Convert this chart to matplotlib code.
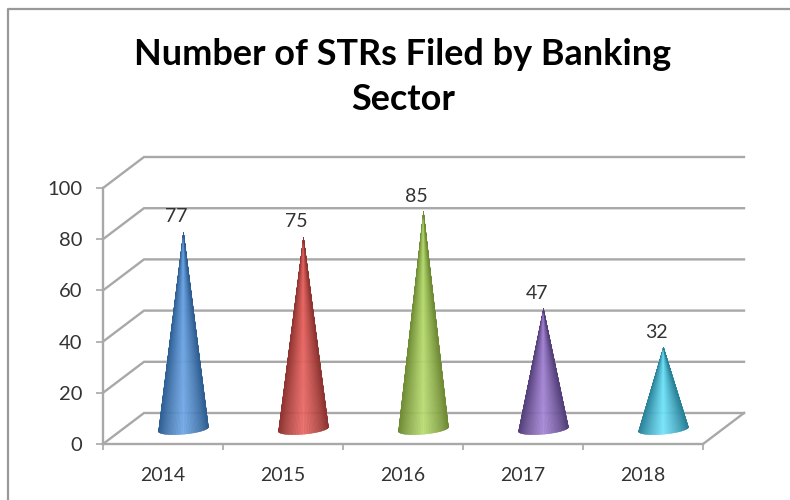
import numpy as np
import matplotlib
matplotlib.use("Agg")
import matplotlib.pyplot as plt
from matplotlib.colors import LinearSegmentedColormap
from matplotlib.collections import PolyCollection
from matplotlib.lines import Line2D

categories = ["2014", "2015", "2016", "2017", "2018"]
values = [77, 75, 85, 47, 32]
dark = ["#2f5f92", "#8e3431", "#6f8b35", "#54407a", "#2a8299"]
light = ["#6ea6e6", "#ea6763", "#b8dc70", "#a585d6", "#72e4fb"]
title = "Number of STRs Filed by Banking\nSector"
yticks = [0, 20, 40, 60, 80, 100]

W, H = 790, 500
plt.rcParams["font.family"] = ["Lato", "DejaVu Sans"]
fig = plt.figure(figsize=(W / 100, H / 100), dpi=100)
L, R, T, B = 103, 703, 188, 444
ax = fig.add_axes([L / W, 1 - B / H, (R - L) / W, (B - T) / H])
ax.set_xlim(-0.5, 4.5)
ax.set_ylim(0, 100)
px_x = 5 / (R - L)
px_y = 100 / (B - T)
dx, dy = 41 * px_x, 31 * px_y
GRID = "#a8a8a8"
LW = 1.7

for y in yticks:
    ax.plot([-0.5, -0.5 + dx, 4.5 + dx], [y, y + dy, y + dy], color=GRID, lw=LW,
            clip_on=False, zorder=1, solid_joinstyle="miter")
ax.plot([4.5, 4.5 + dx], [0, dy], color=GRID, lw=LW, clip_on=False, zorder=1)

cmaps = [LinearSegmentedColormap.from_list("c", [d, l]) for d, l in zip(dark, light)]
r = 25 * px_x
b = 5 * px_y
tilt = 2.2 * px_y
for i, v in enumerate(values):
    cx, cy = i + dx / 2, dy / 2 - 0.3
    th = np.linspace(np.pi, 0, 121)
    bx = cx + r * np.cos(th)
    by = cy - b * np.sin(th) + tilt * np.cos(th)
    tip = (cx, cy + v)
    polys = [[(bx[k], by[k]), (bx[k + 1], by[k + 1]), tip] for k in range(120)]
    u = (np.cos(th[:-1]) + np.cos(th[1:])) / 2
    shade = np.clip(1 - np.abs(u), 0, 1)
    cols = cmaps[i](shade)
    ax.add_collection(PolyCollection(polys, facecolors=cols, edgecolors=cols, lw=0.2,
                                     zorder=3, clip_on=False))
    ax.annotate(str(v), xy=tip, xytext=(-5, 11), textcoords="offset points",
                ha="center", va="center", fontsize=14, color="#333333", zorder=4,
                annotation_clip=False)

for s in ["top", "right"]:
    ax.spines[s].set_visible(False)
for s in ["left", "bottom"]:
    ax.spines[s].set_color(GRID)
    ax.spines[s].set_linewidth(LW)
ax.patch.set_alpha(0)
ax.set_yticks(yticks)
ax.set_xticks(np.arange(-0.5, 5))
ax.set_xticklabels([])
ax.set_xticks(range(5), categories, minor=True)
ax.tick_params(axis="x", which="minor", length=0, pad=16.5, labelsize=14, labelcolor="#333333")
ax.tick_params(axis="x", which="major", length=4, width=1.2, color=GRID)
ax.tick_params(axis="y", length=5, width=1.2, color=GRID, pad=10, labelsize=14.5, labelcolor="#333333")

fig.text(403 / W, 1 - 77 / H, title, ha="center", va="center", fontsize=25.9,
         fontweight="bold", color="black", linespacing=1.45)
fig.add_artist(Line2D([8 / W, 8 / W, 1], [0, 1 - 9 / H, 1 - 9 / H], color="#999999", lw=1.6))
fig.savefig("out.png", dpi=100)
